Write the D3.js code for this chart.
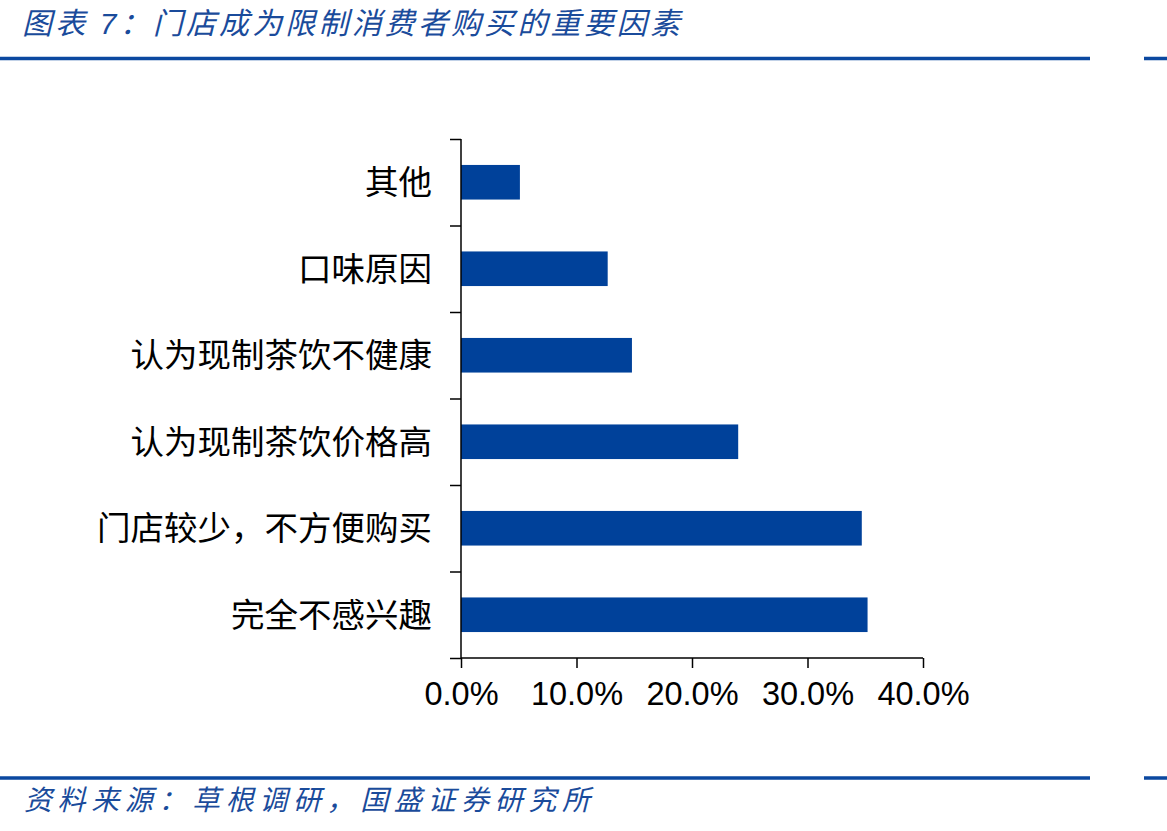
<!DOCTYPE html>
<html><head><meta charset="utf-8">
<script src="https://cdn.jsdelivr.net/npm/d3@7"></script>
<style>
html,body{margin:0;padding:0;background:#fff;}
svg{display:block;}
</style></head>
<body>
<svg id="chart" width="1167" height="831"></svg>
<script>
const categories = ["其他","口味原因","认为现制茶饮不健康","认为现制茶饮价格高","门店较少，不方便购买","完全不感兴趣"];
const values = [0.051, 0.127, 0.148, 0.240, 0.347, 0.352];
const xTicks = [0, 0.1, 0.2, 0.3, 0.4];
const titleText = "图表 7：门店成为限制消费者购买的重要因素";
const sourceText = "资料来源：草根调研，国盛证券研究所";

const blue = "#00419a";
const lineBlue = "#0b48a0";
const cjk = "'Liberation Sans', Arial, 'Noto Sans CJK SC', sans-serif";

const svg = d3.select("#chart");
const x = d3.scaleLinear().domain([0, 0.4]).range([461, 923]);
const y = d3.scaleBand().domain(categories).range([139, 658]).paddingInner(0.6).paddingOuter(0.3);

// title
svg.append("text").attr("x", 22).attr("y", 34)
  .attr("font-family", cjk).attr("font-style", "italic").attr("font-size", 30)
  .attr("fill", "#1a4b9b").attr("textLength", 658).attr("lengthAdjust", "spacing")
  .text(titleText);

// header/footer lines
[58.5, 778].forEach(yy => {
  svg.append("rect").attr("x", 0).attr("y", yy - 1.75).attr("width", 1090).attr("height", 3.5).attr("fill", lineBlue);
  svg.append("rect").attr("x", 1144).attr("y", yy - 1.75).attr("width", 23).attr("height", 3.5).attr("fill", lineBlue);
});

// bars
svg.append("g").selectAll("rect").data(values).join("rect")
  .attr("x", x(0)).attr("y", (d, i) => y(categories[i]))
  .attr("width", d => x(d) - x(0)).attr("height", y.bandwidth())
  .attr("fill", blue);

// y axis (band boundaries as ticks)
const yAxisScale = d3.scaleLinear().domain([0, categories.length]).range([139, 658]);
const yAxis = d3.axisLeft(yAxisScale).tickValues(d3.range(categories.length + 1)).tickSize(11).tickFormat("");
const gy = svg.append("g").attr("transform", `translate(${x(0)},0)`).call(yAxis);
gy.select(".domain").attr("stroke", "#000").attr("stroke-width", 1.5).attr("d", `M0,139V658`);
gy.selectAll(".tick line").attr("stroke", "#000").attr("stroke-width", 1.5);

// category labels
svg.append("g").selectAll("text").data(categories).join("text")
  .attr("x", 432).attr("y", d => y(d) + y.bandwidth() / 2)
  .attr("dy", "0.36em").attr("text-anchor", "end")
  .attr("font-family", cjk).attr("font-size", 33.5).attr("fill", "#000")
  .text(d => d);

// x axis
const xAxis = d3.axisBottom(x).tickValues(xTicks).tickSize(10).tickPadding(14).tickFormat(d3.format(".1%"));
const gx = svg.append("g").attr("transform", `translate(0,658)`).call(xAxis);
gx.select(".domain").attr("stroke", "#000").attr("stroke-width", 1.5).attr("d", `M461,0H923`);
gx.selectAll(".tick line").attr("stroke", "#000").attr("stroke-width", 1.5);
gx.selectAll(".tick text").attr("font-family", cjk).attr("font-size", 32.5).attr("fill", "#000");

// source
svg.append("text").attr("x", 24).attr("y", 810)
  .attr("font-family", cjk).attr("font-style", "italic").attr("font-size", 28)
  .attr("fill", "#1a4b9b").attr("textLength", 566).attr("lengthAdjust", "spacing")
  .text(sourceText);
</script>
</body></html>
